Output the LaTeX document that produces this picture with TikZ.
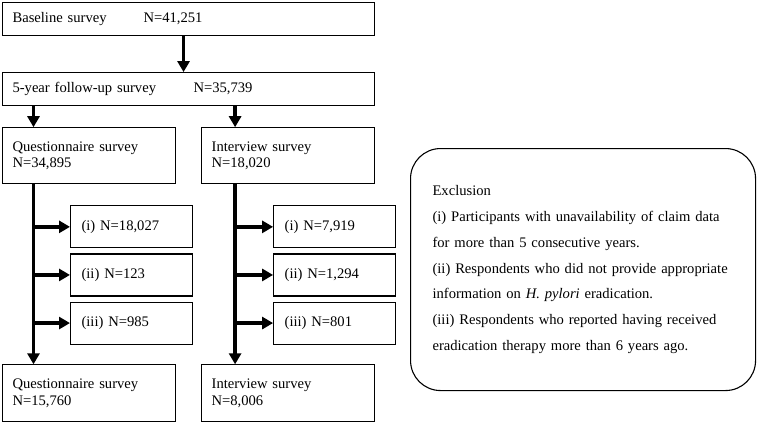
\documentclass[tikz,border=0pt]{standalone}
\usepackage{fontspec}
\setmainfont{Liberation Serif}
\usepackage{tikz}
\usetikzlibrary{positioning, arrows.meta, calc}

\begin{document}
\begin{tikzpicture}[
                box/.style={draw, line width=1.1pt, align=left, inner xsep=10pt, inner ysep=0pt, font=\fontsize{14.6pt}{16.5pt}\selectfont},
                wide/.style={box, text width=352pt, minimum height=33pt},
                half/.style={box, text width=153pt, minimum height=56pt},
                sub/.style={box, inner xsep=11pt, text width=100pt, minimum height=42pt},
                arr/.style={-{Triangle[width=12pt, length=11pt]}, line width=3.5pt},
            ]
                \useasboundingbox (0pt,0pt) rectangle (757pt,-423pt);

                \node[wide, anchor=north west] (base) at (2pt,-2pt) {\makebox[131pt][l]{Baseline survey}N=41,251};
                \node[wide, below=36pt of base] (follow) {\makebox[181pt][l]{5-year follow-up survey}N=35,739};

                \node[half, below right=21pt and 0pt of follow.south west] (q1) {Questionnaire survey\\N=34,895};
                \node[half, right=25pt of q1] (iv1) {Interview survey\\N=18,020};

                % Excluded counts
                \node[sub, below right=21pt and 68pt of q1.south west] (qa) {(i) N=18,027};
                \node[sub, below=5pt of qa] (qb) {(ii) N=123};
                \node[sub, below=5pt of qb] (qc) {(iii) N=985};
                \node[sub, right=80pt of qa] (ia) {(i) N=7,919};
                \node[sub, right=80pt of qb] (ib) {(ii) N=1,294};
                \node[sub, right=80pt of qc] (ic) {(iii) N=801};

                \node[half, below=180pt of q1, minimum height=57pt] (q2) {Questionnaire survey\\N=15,760};
                \node[half, right=25pt of q2, minimum height=57pt] (iv2) {Interview survey\\N=8,006};

                \coordinate (qtrunk) at ([xshift=31.5pt]q1.south west);
                \coordinate (itrunk) at ([xshift=34pt]iv1.south west);

                \draw[arr] ([xshift=-5pt]base.south) -- ([xshift=-5pt]follow.north);
                \draw[arr] (follow.south -| qtrunk) -- (q1.north -| qtrunk);
                \draw[arr] (follow.south -| itrunk) -- (iv1.north -| itrunk);
                \draw[arr] (qtrunk) -- (q2.north -| qtrunk);
                \draw[arr] (itrunk) -- (iv2.north -| itrunk);

                \draw[arr] (qtrunk |- qa.west) -- (qa.west);
                \draw[arr] (qtrunk |- qb.west) -- (qb.west);
                \draw[arr] (qtrunk |- qc.west) -- (qc.west);
                \draw[arr] (itrunk |- ia.west) -- (ia.west);
                \draw[arr] (itrunk |- ib.west) -- (ib.west);
                \draw[arr] (itrunk |- ic.west) -- (ic.west);

                % Exclusion criteria
                \node[draw, line width=1.1pt, rounded corners=30pt, anchor=north west, align=left,
                      text width=301pt, inner xsep=22pt, minimum height=242pt,
                      font=\fontsize{14.6pt}{25.7pt}\selectfont] (excl) at (410pt,-148pt)
                    {Exclusion\\
                     (i) Participants with unavailability of claim data\\
                     for more than 5 consecutive years.\\
                     (ii) Respondents who did not provide appropriate\\
                     information on \textit{H. pylori} eradication.\\
                     (iii) Respondents who reported having received\\
                     eradication therapy more than 6 years ago.};
            \end{tikzpicture}
\end{document}
